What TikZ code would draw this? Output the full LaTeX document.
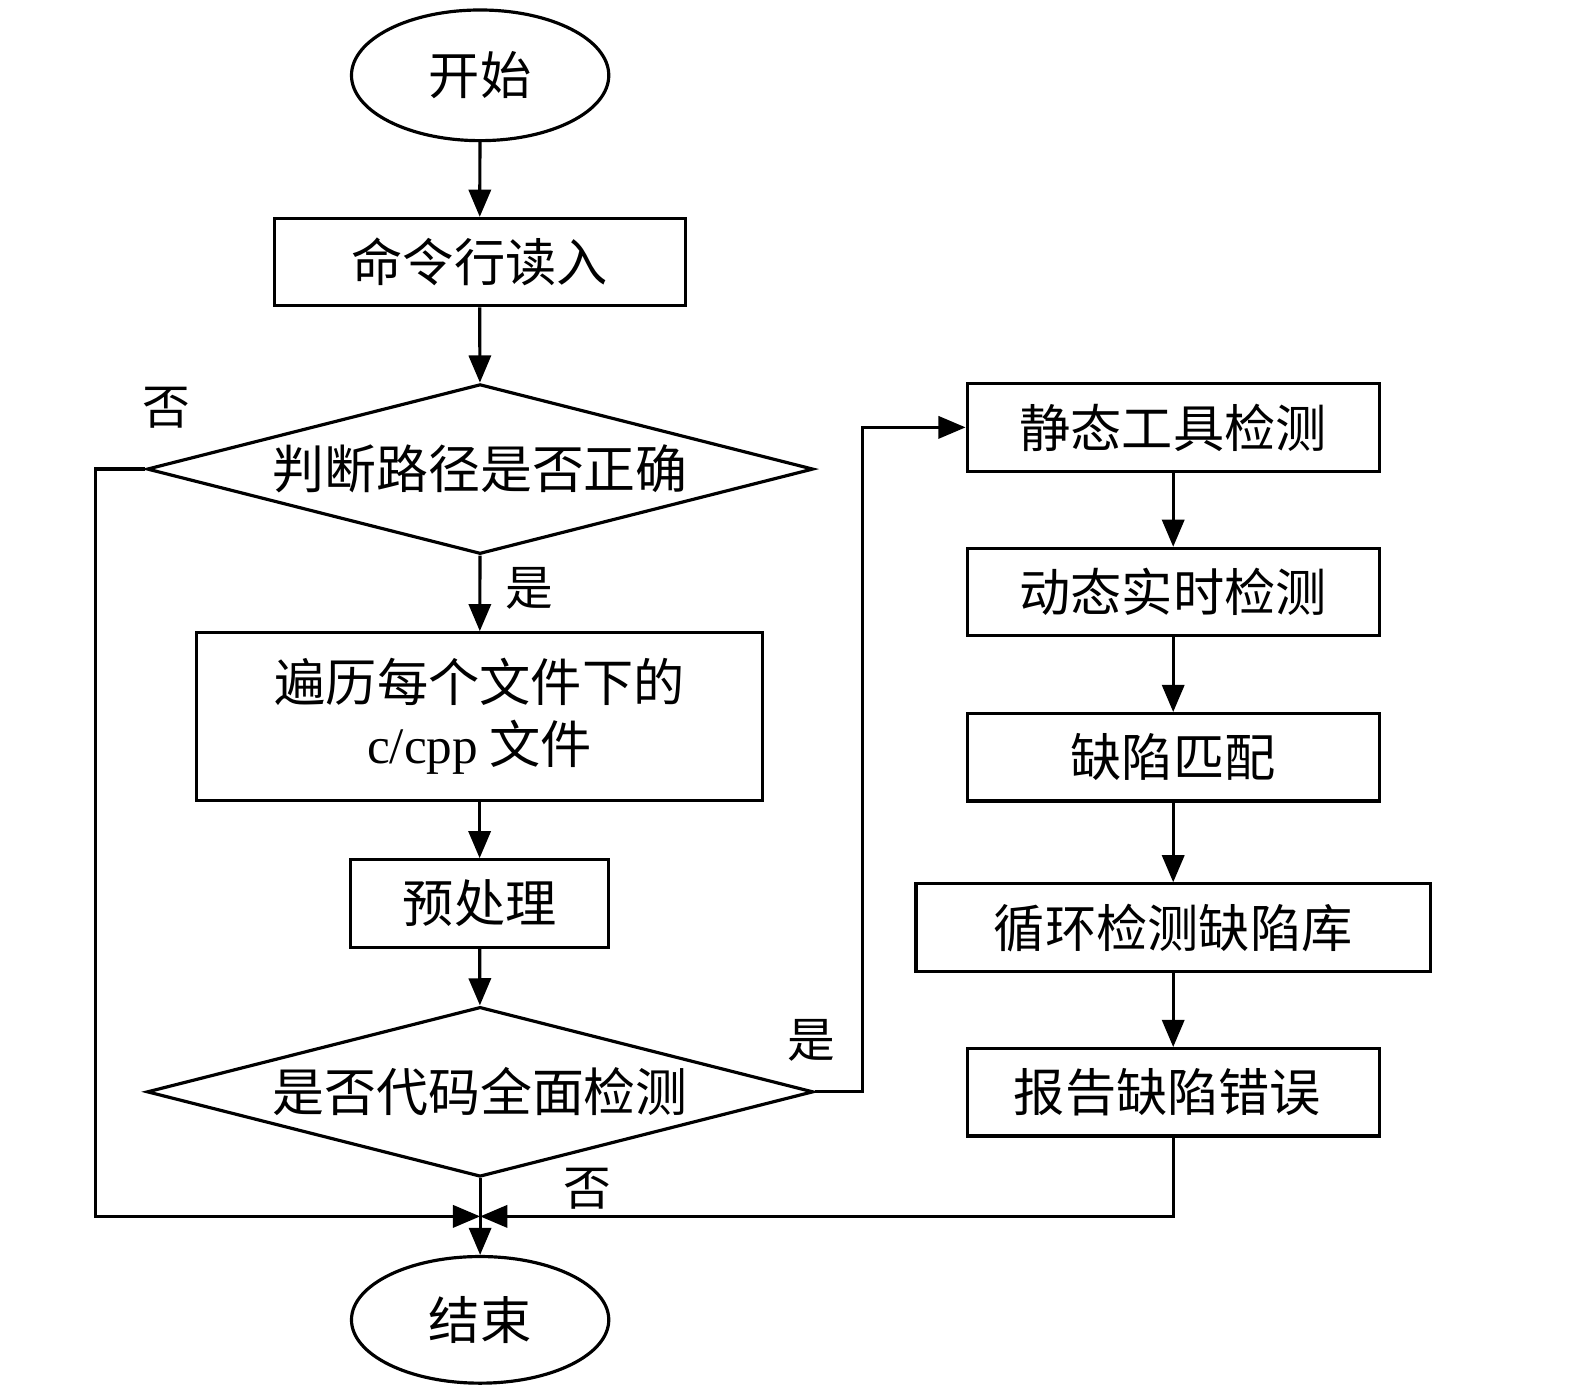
\documentclass[tikz,border=0pt]{standalone}
\usepackage{fontspec}
\setmainfont{Liberation Serif}
\newfontfamily\cjk{Noto Sans CJK SC}
\usetikzlibrary{shapes.geometric,arrows.meta,calc,positioning}

\tikzset{
  startEnd/.style={ellipse, draw, line width=0.9pt, minimum width=2.56cm, minimum height=1.3cm, inner sep=0pt, font=\cjk\fontsize{14.5}{18}\selectfont},
  procBox/.style={rectangle, draw, line width=0.9pt, minimum height=0.87cm, inner sep=0pt, align=center, font=\cjk\fontsize{14.5}{17.6}\selectfont},
  decision/.style={diamond, draw, line width=0.9pt, aspect=3.92, minimum width=6.63cm, minimum height=1.69cm, inner sep=0pt, font=\cjk\fontsize{14.7}{18}\selectfont},
  flow/.style={line width=0.9pt, -{Triangle[length=0.27cm,width=0.22cm]}},
  link/.style={line width=0.9pt},
  tag/.style={inner sep=0pt, font=\cjk\fontsize{13.5}{16}\selectfont}
}

\begin{document}
\begin{tikzpicture}[x=0.01cm,y=-0.01cm]

      \useasboundingbox (0,0) rectangle (1568,1392);

      % draw the main column
      \node[startEnd] (start) at (478,75) {开始};
      \node[procBox, minimum width=4.09cm] (read) at (477.5,261) {命令行读入};
      \node[decision] (checkPath) at (478,467) {判断路径是否正确};
      \node[procBox, minimum width=5.63cm, minimum height=1.67cm] (traverse) at (477.5,713.5) {遍历每个文件下的\\\textrm{c/cpp} 文件};
      \node[procBox, minimum width=2.57cm] (prep) at (477.5,899.5) {预处理};
      \node[decision] (fullCheck) at (478,1087) {是否代码全面检测};
      \node[startEnd, minimum height=1.26cm] (end) at (478,1314) {结束};
      \coordinate (joint) at (478,1211);

      % draw the detection column
      \def\steps{
        static/425.5/4.10cm/{静态工具检测},
        dynamic/589.5/4.10cm/{动态实时检测},
        match/754/4.10cm/{缺陷匹配},
        loop/923.5/5.12cm/{循环检测缺陷库},
        report/1087.5/4.10cm/{报告缺陷错误}
      }
      \foreach \id/\y/\w/\name in \steps
        \node[procBox, minimum width=\w] (\id) at (1168,\y) {\name};

      \foreach \a/\b in {static/dynamic, dynamic/match, match/loop, loop/report}
        \draw[flow] (\a) -- (\b);

      % draw the main flow
      \draw[flow] (start) -- (read);
      \draw[flow] (read) -- (checkPath);
      \draw[flow] (checkPath) -- (traverse);
      \draw[flow] (traverse) -- (prep);
      \draw[flow] (prep) -- (fullCheck);
      \draw[flow] (fullCheck) -- (end);

      % draw the branches
      \draw[flow] (fullCheck.east) -- (859,1087) |- (static.west);
      \draw[flow] (checkPath.west) -- (95,467) |- (joint);
      \draw[flow] (report.south) |- (joint);

      % label the branches
      \node[tag] (noPath) at (166,406) {否};
      \node[tag] (yesPath) at (527,586) {是};
      \node[tag] (yesFull) at (808,1036) {是};
      \node[tag] (noFull) at (585,1183) {否};

    \end{tikzpicture}
\end{document}
